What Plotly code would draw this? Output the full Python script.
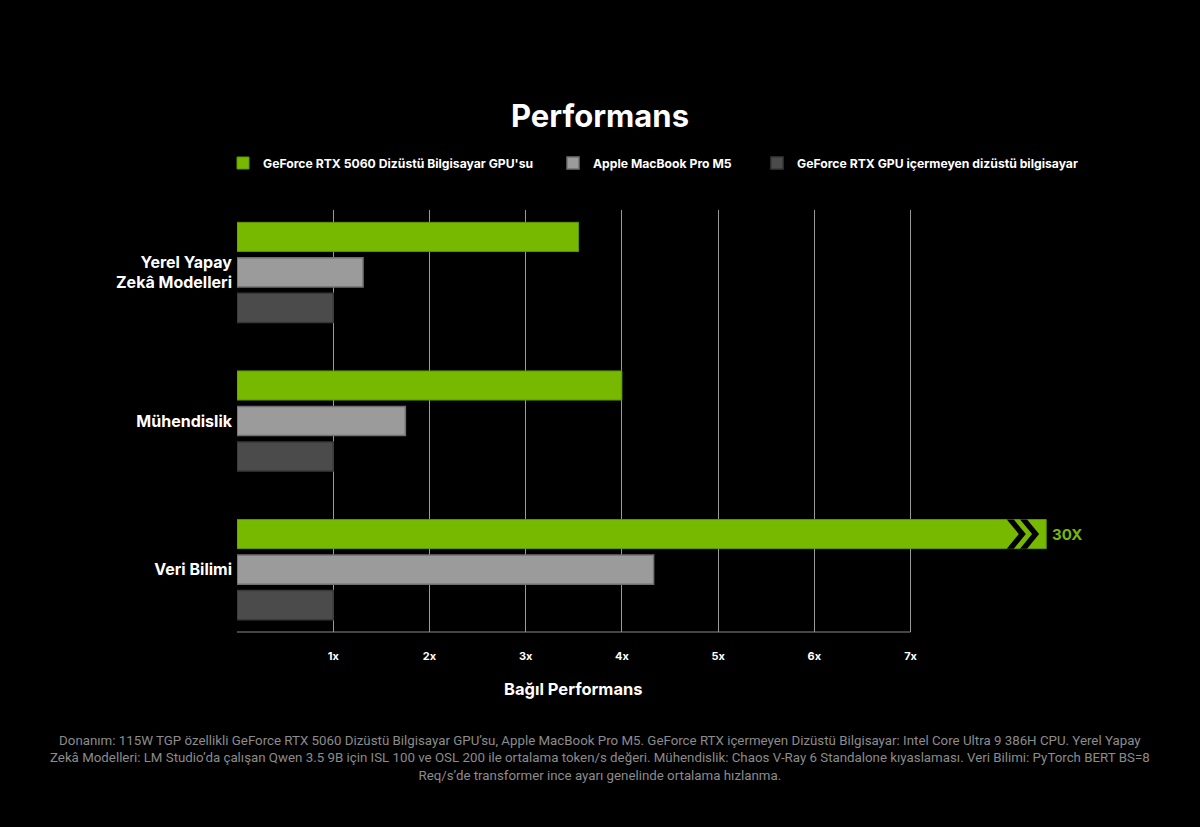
import plotly.graph_objects as go

categories = ["Yerel Yapay<br>Zekâ Modelleri", "Mühendislik", "Veri Bilimi"]
series_names = [
    "GeForce RTX 5060 Dizüstü Bilgisayar GPU'su",
    "Apple MacBook Pro M5",
    "GeForce RTX GPU içermeyen dizüstü bilgisayar",
]
rtx5060 = [3.55, 4.0, 30]
macbook_m5 = [1.31, 1.75, 4.33]
no_rtx = [1, 1, 1]
tick_vals = [0, 1, 2, 3, 4, 5, 6, 7]
tick_text = ["", "1x", "2x", "3x", "4x", "5x", "6x", "7x"]

footnote = (
    "Donanım: 115W TGP özellikli GeForce RTX 5060 Dizüstü Bilgisayar GPU’su, Apple MacBook Pro M5. "
    "GeForce RTX içermeyen Dizüstü Bilgisayar: Intel Core Ultra 9 386H CPU. Yerel Yapay<br>"
    "Zekâ Modelleri: LM Studio’da çalışan Qwen 3.5 9B için ISL 100 ve OSL 200 ile ortalama token/s değeri. "
    "Mühendislik: Chaos V-Ray 6 Standalone kıyaslaması. Veri Bilimi: PyTorch BERT BS=8<br>"
    "Req/s’de transformer ince ayarı genelinde ortalama hızlanma."
)

GREEN = "#76b900"
GRAY = "#9b9b9b"
DARK = "#4b4b4b"
FONT = "Inter"
NOTE_FONT = "Roboto"

# bars longer than the axis get cut here and drawn with a break mark
BREAK_AT = 8.41
BARGAP = 0.283
GROUPGAP = 0.18

green_shown = [min(v, BREAK_AT) for v in rtx5060]

fig = go.Figure()
fig.add_bar(y=categories, x=green_shown, name=series_names[0], orientation="h",
            legend="legend", showlegend=True,
            marker=dict(color=GREEN, line=dict(color="#5f9400", width=1)),
            customdata=rtx5060, hovertemplate="%{customdata}x<extra></extra>")
fig.add_bar(y=categories, x=macbook_m5, name=series_names[1], orientation="h",
            legend="legend2", showlegend=True,
            marker=dict(color=GRAY, line=dict(color="#707070", width=1.5)))
fig.add_bar(y=categories, x=no_rtx, name=series_names[2], orientation="h",
            legend="legend3", showlegend=True,
            marker=dict(color=DARK, line=dict(color="#383838", width=1.5)))

# break chevrons + label on every cut bar
slot = (1 - BARGAP) / 3
thick = slot * (1 - GROUPGAP)
shapes = []
annotations = []
for i, v in enumerate(rtx5060):
    if v <= BREAK_AT:
        continue
    yc = i - slot
    y0, y1 = yc - thick / 2, yc + thick / 2
    w, d = 0.073, 0.125
    for a in (BREAK_AT - 0.41, BREAK_AT - 0.272):
        path = (f"M {a},{y0} L {a + w},{y0} L {a + w + d},{yc} L {a + w},{y1} "
                f"L {a},{y1} L {a + d},{yc} Z")
        shapes.append(dict(type="path", path=path, xref="x", yref="y",
                           fillcolor="black", line=dict(width=0)))
    annotations.append(dict(x=BREAK_AT, y=yc, xref="x", yref="y", text=f"{v:g}X",
                            showarrow=False, xanchor="left", xshift=4,
                            font=dict(family=FONT, size=15, color=GREEN, weight="bold")))

# bottom axis line only across the scale
shapes.append(dict(type="line", xref="x", yref="paper", x0=0, x1=tick_vals[-1], y0=0, y1=0,
                   line=dict(color="#8a8a8a", width=1.2)))

annotations.append(dict(x=tick_vals[-1] / 2, y=-0.135, xref="x", yref="paper",
                        text="Bağıl Performans", showarrow=False, yanchor="middle",
                        font=dict(family=FONT, size=16.5, color="white", weight="bold")))
annotations.append(dict(x=0.419, y=-0.235, xref="paper", yref="paper", text=footnote,
                        showarrow=False, yanchor="top", xanchor="center", align="center",
                        font=dict(family=NOTE_FONT, size=13.3, color="#8c8c8c")))


def legend_at(left_px):
    return dict(orientation="h", x=left_px / 1200, xref="container", xanchor="left",
                y=1 - 163 / 827, yref="container", yanchor="middle",
                font=dict(family=FONT, size=12.2, color="white", weight="bold"),
                bgcolor="rgba(0,0,0,0)", itemclick=False, itemdoubleclick=False)


fig.update_layout(
    width=1200, height=827,
    paper_bgcolor="black", plot_bgcolor="black",
    margin=dict(l=237, r=97, t=210, b=195),
    barmode="group", bargap=BARGAP, bargroupgap=GROUPGAP,
    showlegend=True,
    title=dict(text="Performans", x=0.5, xref="container", xanchor="center",
               y=1 - 116 / 827, yref="container", yanchor="middle",
               font=dict(family=FONT, size=31, color="white", weight="bold")),
    legend=legend_at(223),
    legend2=legend_at(553),
    legend3=legend_at(757),
    xaxis=dict(range=[0, 9], tickvals=tick_vals, ticktext=tick_text,
               showgrid=True, gridcolor="#9a9a9a", gridwidth=1, zeroline=False,
               showline=False, ticks="", ticklabelstandoff=16,
               tickfont=dict(family=FONT, size=11, color="white", weight="bold")),
    yaxis=dict(range=[2.42, -0.42], showgrid=False, zeroline=False, showline=False,
               ticks="", ticklabelstandoff=4,
               tickfont=dict(family=FONT, size=16, color="white", weight="bold")),
    shapes=shapes, annotations=annotations,
)

fig.write_html("out.html", config={"displayModeBar": False},
               post_script="document.body.style.margin='0';")
